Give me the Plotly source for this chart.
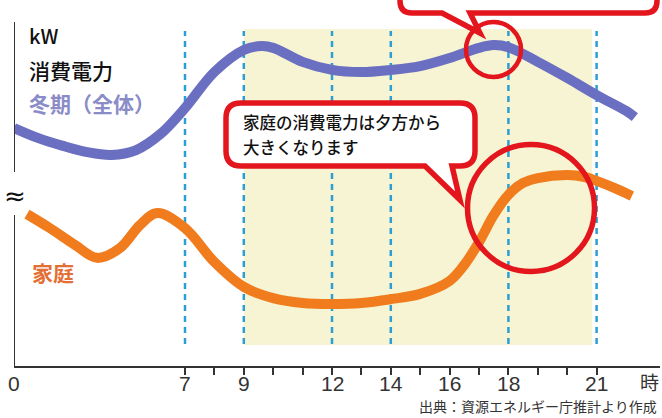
import plotly.graph_objects as go

# ---- data -------------------------------------------------------------
# hour of day and power demand (relative kW units, axis is not scaled)
winter_hours = [0, 1, 2, 3, 4, 5, 6, 7, 8, 9, 9.6, 10, 11, 12, 13, 14, 15, 16,
                17, 17.5, 18, 19, 20, 21, 22, 22.3]
winter_total = [68.0, 65.1, 62.9, 61.1, 60.3, 61.7, 66.3, 73.7, 84.0, 90.3, 91.4,
                90.9, 86.9, 84.6, 84.0, 84.6, 85.7, 88.0, 90.9, 91.7, 91.1, 86.9,
                82.3, 77.4, 72.9, 71.1]

home_hours = [0.53, 1.47, 2.5, 3.4, 4.34, 5.16, 5.86, 7, 8, 9, 10, 11, 12, 13, 14,
              15, 16, 16.5, 17, 17.5, 18, 18.5, 19, 20, 20.6, 21, 21.6, 22.2]
home_use = [43.4, 39.4, 34.6, 30.9, 33.7, 40.3, 43.7, 39.4, 29.7, 22.6, 19.4, 18.0,
            17.7, 18.0, 19.1, 20.6, 24.3, 28.9, 35.4, 43.1, 48.9, 52.3, 53.7, 54.6,
            54.0, 52.9, 50.9, 48.6]

tick_hours = list(range(7, 22))
labelled_hours = [0, 7, 9, 12, 14, 16, 18, 21]
guide_hours = [7, 9, 12, 14, 18, 21]
daytime_band = (9, 20.85)

# ---- axis mapping -----------------------------------------------------
# hours 0-7 are drawn compressed; from 7 onwards one hour is a fixed width
PX_PER_HOUR = 29.4
X7_PX = 185.0
AXIS_Y_PX = 366.0
PX_PER_UNIT = 3.5
LEFT_PX, RIGHT_PX = 14.0, 660.0
EARLY_SCALE = (X7_PX - LEFT_PX) / PX_PER_HOUR / 7.0


def hx(h):
    return h if h >= 7 else 7 - (7 - h) * EARLY_SCALE


def ux(px):
    return 7 + (px - X7_PX) / PX_PER_HOUR


def vy(py):
    return (AXIS_Y_PX - py) / PX_PER_UNIT


def paper_x(px):
    return (px - LEFT_PX) / (RIGHT_PX - LEFT_PX)


def paper_y(py):
    return (AXIS_Y_PX - py) / AXIS_Y_PX


BLUE = "#6b6fc1"
ORANGE = "#f07c1e"
RED = "#e3161e"
GUIDE = "#2b9fd3"
CJK = "Noto Sans CJK JP"

fig = go.Figure()
fig.add_trace(go.Scatter(
    x=[hx(h) for h in winter_hours], y=winter_total, mode="lines",
    line=dict(color=BLUE, width=10, shape="spline", smoothing=1.0),
    hoverinfo="skip", showlegend=False))
fig.add_trace(go.Scatter(
    x=[hx(h) for h in home_hours], y=home_use, mode="lines",
    line=dict(color=ORANGE, width=10, shape="spline", smoothing=1.0),
    hoverinfo="skip", showlegend=False))

shapes = []
# daytime band
shapes.append(dict(type="rect", xref="x", yref="y", layer="below",
                   x0=hx(daytime_band[0]), x1=hx(daytime_band[1]),
                   y0=vy(345), y1=vy(29), fillcolor="#f6f4d2", line_width=0))
# dashed hour guides
for h in guide_hours:
    shapes.append(dict(type="line", xref="x", yref="y", layer="below",
                       x0=hx(h), x1=hx(h), y0=vy(344), y1=vy(31),
                       line=dict(color=GUIDE, width=2.5, dash="6px,5px")))
# broken vertical axis
for top, bottom in [(22, 172), (215, AXIS_Y_PX)]:
    shapes.append(dict(type="line", xref="x", yref="y",
                       x0=ux(LEFT_PX), x1=ux(LEFT_PX), y0=vy(bottom), y1=vy(top),
                       line=dict(color="#333333", width=2)))


def bubble(left, top, right, bottom, r, base_a, base_b, tip):
    pts = lambda px, py: f"{ux(px):.4f},{vy(py):.4f}"
    return ("M " + pts(left + r, top)
            + " L " + pts(right - r, top)
            + " Q " + pts(right, top) + " " + pts(right, top + r)
            + " L " + pts(right, bottom - r)
            + " Q " + pts(right, bottom) + " " + pts(right - r, bottom)
            + " L " + pts(base_b, bottom)
            + " L " + pts(*tip)
            + " L " + pts(base_a, bottom)
            + " L " + pts(left + r, bottom)
            + " Q " + pts(left, bottom) + " " + pts(left, bottom - r)
            + " L " + pts(left, top + r)
            + " Q " + pts(left, top) + " " + pts(left + r, top) + " Z")


# highlight circles
for cx, cy, rad, w in [(493.5, 49.5, 27.5, 4.5), (531, 208, 63.5, 5.5)]:
    shapes.append(dict(type="circle", xref="x", yref="y", layer="above",
                       x0=ux(cx - rad), x1=ux(cx + rad),
                       y0=vy(cy + rad), y1=vy(cy - rad),
                       line=dict(color=RED, width=w)))
# speech bubbles
shapes.append(dict(type="path", xref="x", yref="y", layer="above",
                   path=bubble(400, -30, 657, 13, 12, 442, 470, (480, 33)),
                   fillcolor="white", line=dict(color=RED, width=5.5)))
shapes.append(dict(type="path", xref="x", yref="y", layer="above",
                   path=bubble(226, 103, 475, 166, 15, 425, 452, (460, 200)),
                   fillcolor="white", line=dict(color=RED, width=5.5)))

ann = []


def label(text, px, py, size, color="#111111", anchor="left", family=CJK, weight=500):
    ann.append(dict(text=text, x=paper_x(px), y=paper_y(py), xref="paper", yref="paper",
                    xanchor=anchor, yanchor="middle", showarrow=False,
                    font=dict(family=family, size=size, color=color, weight=weight)))


label("kW", 27, 35, 20)
label("消費電力", 27, 70, 21)
label("冬期（全体）", 27, 103, 21, color="#8a8cc8", weight=700)
label("家庭", 30, 272, 21, color="#e36f35", weight=700)
label("≈", 15, 196, 26, anchor="center", family="DejaVu Sans", weight=400)
label("家庭の消費電力は夕方から", 241, 122, 16.5)
label("大きくなります", 241, 147, 16.5)

# hour labels under the axis
for h in labelled_hours:
    px = X7_PX + (hx(h) - 7) * PX_PER_HOUR
    label(str(h), px, 383, 21, color="#333333", anchor="center",
          family="Liberation Sans", weight=400)
label("時", 649, 381, 19, color="#333333", anchor="center", weight=400)
label("出典：資源エネルギー庁推計より作成", 659, 406, 14, color="#333333",
      anchor="right", weight=400)

fig.update_layout(
    width=662, height=418,
    margin=dict(l=14, r=2, t=0, b=52, pad=0),
    paper_bgcolor="white", plot_bgcolor="white",
    shapes=shapes, annotations=ann,
    xaxis=dict(range=[ux(LEFT_PX), ux(RIGHT_PX)], showgrid=False, zeroline=False,
               showline=True, linecolor="#333333", linewidth=2,
               ticks="outside", ticklen=7, tickwidth=1.5, tickcolor="#333333",
               tickvals=[hx(h) for h in tick_hours],
               ticktext=["" for h in tick_hours],
               fixedrange=True),
    yaxis=dict(range=[0, vy(0)], visible=False, fixedrange=True),
)

fig.write_html("out.html", config={"displayModeBar": False})
